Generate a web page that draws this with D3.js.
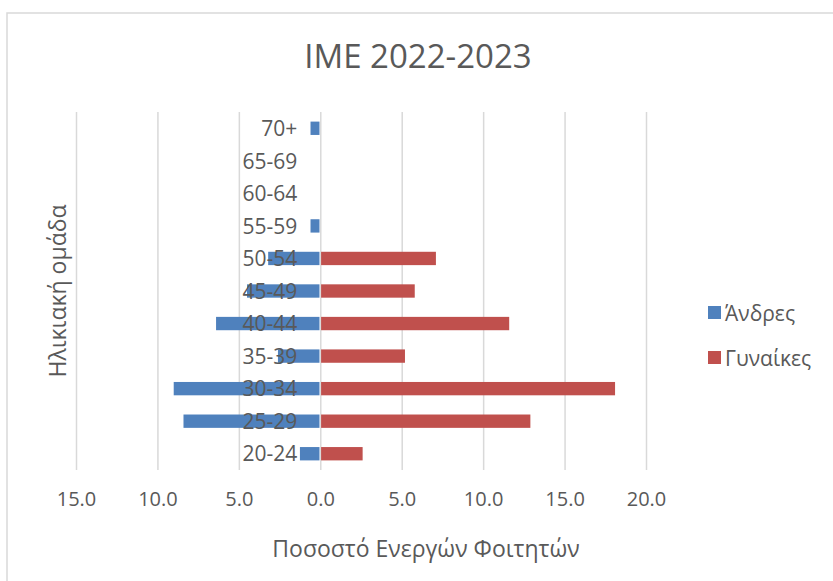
<!DOCTYPE html>
<html>
<head>
<meta charset="utf-8">
<script src="https://cdn.jsdelivr.net/npm/d3@7"></script>
<style>
  body { margin: 0; background: #fff; }
  text { font-family: "Open Sans", sans-serif; fill: #595959; }
</style>
</head>
<body>
<svg id="mainsvg" width="833" height="581"></svg>
<script>
// data (men are drawn to the left)
const ageGroups = ['20-24', '25-29', '30-34', '35-39', '40-44', '45-49', '50-54', '55-59', '60-64', '65-69', '70+'];
const menValues = [1.25, 8.4, 9.0, 2.6, 6.4, 4.5, 3.2, 0.6, 0, 0, 0.6];
const womenValues = [2.6, 12.9, 18.1, 5.2, 11.6, 5.8, 7.1, 0, 0, 0, 0];
const xTicks = [-15, -10, -5, 0, 5, 10, 15, 20];
const seriesNames = ['Άνδρες', 'Γυναίκες'];

const svg = d3.select('#mainsvg');
const width = +svg.attr('width');
const height = +svg.attr('height');
const margin = {top: 112, right: 187, bottom: 111, left: 76};
const innerWidth = width - margin.left - margin.right;
const innerHeight = height - margin.top - margin.bottom;

const color = {'Άνδρες': '#4f81bd', 'Γυναίκες': '#c0504d'};

// chart area border (cut off at right / bottom like the picture)
svg.append('rect')
  .attr('x', 7).attr('y', 13)
  .attr('width', width).attr('height', height)
  .attr('fill', 'none')
  .attr('stroke', '#d9d9d9')
  .attr('stroke-width', 1.5);

const g = svg.append('g')
  .attr('transform', `translate(${margin.left}, ${margin.top})`)
  .attr('id', 'maingroup');

const xScale = d3.scaleLinear()
  .domain([-15, 20])
  .range([0, innerWidth]);

const yScale = d3.scaleBand()
  .domain(ageGroups.slice().reverse())
  .range([0, innerHeight])
  .paddingInner(0.59)
  .paddingOuter(0.295);

// gridlines + tick labels
const xAxis = d3.axisBottom(xScale)
  .tickValues(xTicks)
  .tickSize(-innerHeight)
  .tickPadding(22)
  .tickFormat(d => Math.abs(d).toFixed(1));

const xAxisGroup = g.append('g')
  .attr('transform', `translate(0, ${innerHeight})`)
  .call(xAxis);
xAxisGroup.select('.domain').remove();
xAxisGroup.selectAll('.tick line')
  .attr('stroke', '#d9d9d9')
  .attr('stroke-width', 1.5);
xAxisGroup.selectAll('.tick text')
  .attr('font-size', '20px')
  .attr('fill', '#595959')
  .attr('font-family', '"Open Sans", sans-serif');

// bars
const barH = yScale.bandwidth();
g.selectAll('.men').data(ageGroups).join('rect')
  .attr('class', 'men')
  .attr('x', (d, i) => xScale(-menValues[i]))
  .attr('y', d => yScale(d))
  .attr('width', (d, i) => xScale(0) - xScale(-menValues[i]) - 0.8)
  .attr('height', barH)
  .attr('fill', color['Άνδρες']);

g.selectAll('.women').data(ageGroups).join('rect')
  .attr('class', 'women')
  .attr('x', xScale(0) + 0.8)
  .attr('y', d => yScale(d))
  .attr('width', (d, i) => Math.max(0, xScale(womenValues[i]) - xScale(0) - 0.8))
  .attr('height', barH)
  .attr('fill', color['Γυναίκες']);

// category labels sit over the bars
g.selectAll('.cat').data(ageGroups).join('text')
  .attr('class', 'cat')
  .attr('x', xScale(0) - 23)
  .attr('y', d => yScale(d) + barH / 2)
  .attr('dy', '0.37em')
  .attr('text-anchor', 'end')
  .attr('font-size', '21px')
  .text(d => d);

// title
svg.append('text')
  .attr('x', 418)
  .attr('y', 68)
  .attr('text-anchor', 'middle')
  .attr('font-size', '33px')
  .text('IME 2022-2023');

// axis titles
svg.append('text')
  .attr('x', 426)
  .attr('y', 557)
  .attr('text-anchor', 'middle')
  .attr('font-size', '23px')
  .text('Ποσοστό Ενεργών Φοιτητών');

svg.append('text')
  .attr('transform', 'translate(66, 291) rotate(-90)')
  .attr('text-anchor', 'middle')
  .attr('font-size', '23px')
  .text('Ηλικιακή ομάδα');

// legend
const legend = svg.selectAll('.legend').data(seriesNames).join('g')
  .attr('class', 'legend')
  .attr('transform', (d, i) => `translate(708, ${306 + i * 45})`);

legend.append('rect')
  .attr('width', 13).attr('height', 13)
  .attr('fill', d => color[d]);

legend.append('text')
  .attr('x', 17)
  .attr('y', 13)
  .attr('dy', '0.1em')
  .attr('font-size', '21px')
  .text(d => d);
</script>
</body>
</html>
